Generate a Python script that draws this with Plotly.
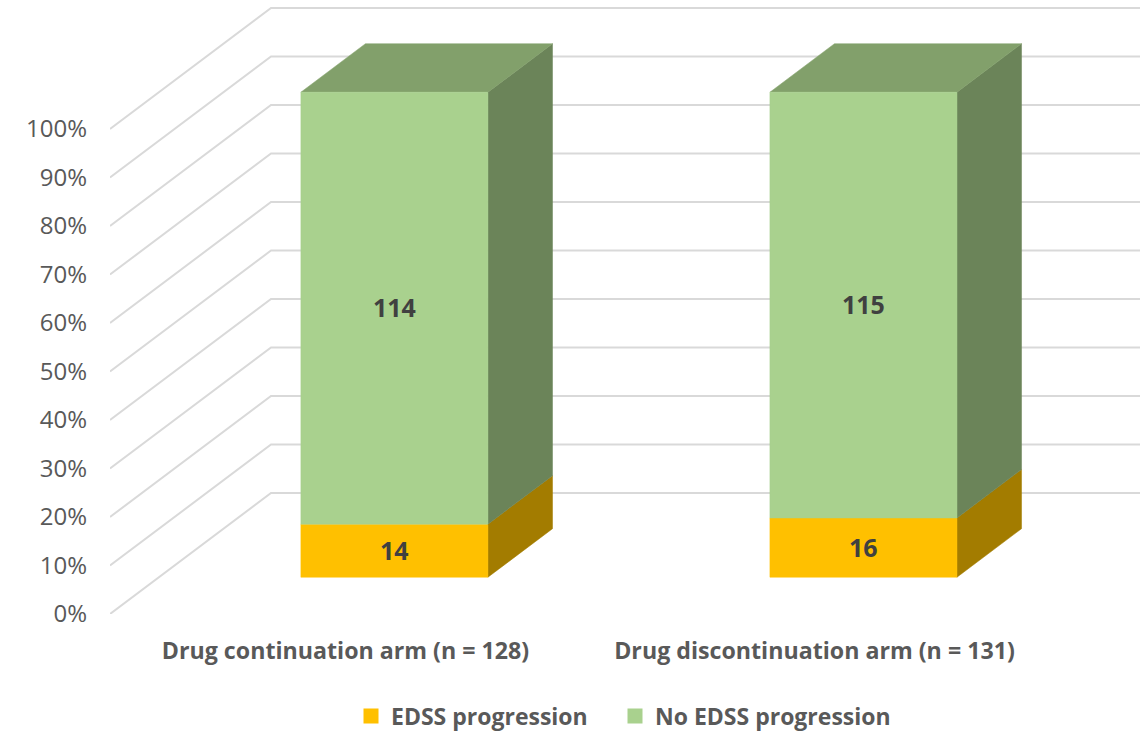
import plotly.graph_objects as go

# Chart content
arms = ["Drug continuation arm (n = 128)", "Drug discontinuation arm (n = 131)"]
edss_progression = [14, 16]
no_edss_progression = [114, 115]
percent_ticks = [0, 10, 20, 30, 40, 50, 60, 70, 80, 90, 100]
percent_labels = ["0%", "10%", "20%", "30%", "40%", "50%", "60%", "70%", "80%", "90%", "100%"]

# Series styling: name, counts, front / side / top face colours, legend slot and its left edge
series = [
    ("EDSS progression", edss_progression, "#FFC000", "#A37C00", "#A37C00", "legend", 351),
    ("No EDSS progression", no_edss_progression, "#A9D18E", "#6B8459", "#82A06B", "legend2", 615),
]

# Oblique projection of the depth axis onto the x (category) and y (percent) axes
DEPTH_X = 0.3433
DEPTH_Y = 24.95
BAR_FRONT = 0.304
BAR_BACK = 0.705
BAR_HALF_WIDTH = 0.1994
X_RANGE = [-0.502, 1.694]
Y_RANGE = [0, 126.6]

WIDTH, HEIGHT = 1140, 732
GRID = "#D9D9D9"
AXIS_TEXT = "#595959"
VALUE_TEXT = "#404040"
FONT = "Open Sans"


def project(x, pct, depth):
    return x + depth * DEPTH_X, pct + depth * DEPTH_Y


def face(points, colour):
    xs, ys = zip(*[project(*p) for p in points])
    return go.Scatter(
        x=list(xs) + [xs[0]], y=list(ys) + [ys[0]], mode="lines", fill="toself",
        fillcolor=colour, line=dict(color=colour, width=0.5),
        showlegend=False, hoverinfo="skip",
    )


fig = go.Figure()

# Gridlines: along the left wall from the front edge, then across the back wall
for pct in percent_ticks:
    wall_x, wall_y = zip(
        project(X_RANGE[0], pct, 0),
        project(X_RANGE[0], pct, 1),
        project(X_RANGE[1], pct, 1),
    )
    fig.add_trace(go.Scatter(
        x=wall_x, y=wall_y, mode="lines", line=dict(color=GRID, width=2),
        showlegend=False, hoverinfo="skip", cliponaxis=True,
    ))

# Stacked 100% columns with front, side and top faces, labelled with their counts
for i, arm in enumerate(arms):
    total = sum(s[1][i] for s in series)
    left, right = i - BAR_HALF_WIDTH, i + BAR_HALF_WIDTH
    base = 0.0
    for name, counts, front, side, top, _, _ in series:
        height = 100.0 * counts[i] / total
        upper = base + height
        fig.add_trace(face([(right, base, BAR_FRONT), (right, base, BAR_BACK),
                            (right, upper, BAR_BACK), (right, upper, BAR_FRONT)], side))
        if upper >= 99.999:
            fig.add_trace(face([(left, upper, BAR_FRONT), (right, upper, BAR_FRONT),
                                (right, upper, BAR_BACK), (left, upper, BAR_BACK)], top))
        fig.add_trace(face([(left, base, BAR_FRONT), (right, base, BAR_FRONT),
                            (right, upper, BAR_FRONT), (left, upper, BAR_FRONT)], front))
        label_x, label_y = project(i, base + height / 2, BAR_FRONT)
        fig.add_annotation(
            x=label_x, y=label_y, text=str(counts[i]), showarrow=False, yshift=1,
            font=dict(family=FONT, size=25, color=VALUE_TEXT, weight="bold"),
        )
        base = upper

# Legend swatches, one legend per series so the two entries can be spaced freely
legend_layout = {}
for name, counts, front, side, top, slot, left_edge in series:
    fig.add_trace(go.Scatter(
        x=[None], y=[None], mode="markers", name=name, legend=slot,
        marker=dict(symbol="square", size=15, color=front),
    ))
    legend_layout[slot] = dict(
        orientation="h", xref="container", yref="container",
        x=left_edge / WIDTH, xanchor="left", y=1 - 716 / HEIGHT, yanchor="middle",
        font=dict(family=FONT, size=23, color=AXIS_TEXT, weight="bold"),
        bgcolor="rgba(0,0,0,0)",
    )

fig.update_layout(
    width=WIDTH, height=HEIGHT,
    margin=dict(l=110, r=0, t=0, b=118),
    paper_bgcolor="white", plot_bgcolor="white",
    font=dict(family=FONT, color=AXIS_TEXT),
    xaxis=dict(
        range=X_RANGE, tickvals=[0, 1], ticktext=arms, showgrid=False, zeroline=False,
        showline=False, ticks="", ticklabelstandoff=21,
        tickfont=dict(family=FONT, size=23.2, color=AXIS_TEXT, weight="bold"),
    ),
    yaxis=dict(
        range=Y_RANGE, tickvals=percent_ticks, ticktext=percent_labels, showgrid=False,
        zeroline=False, showline=False, ticks="", ticklabelstandoff=22,
        tickfont=dict(family=FONT, size=24, color=AXIS_TEXT),
    ),
    **legend_layout,
)

fig.write_html("out.html")
